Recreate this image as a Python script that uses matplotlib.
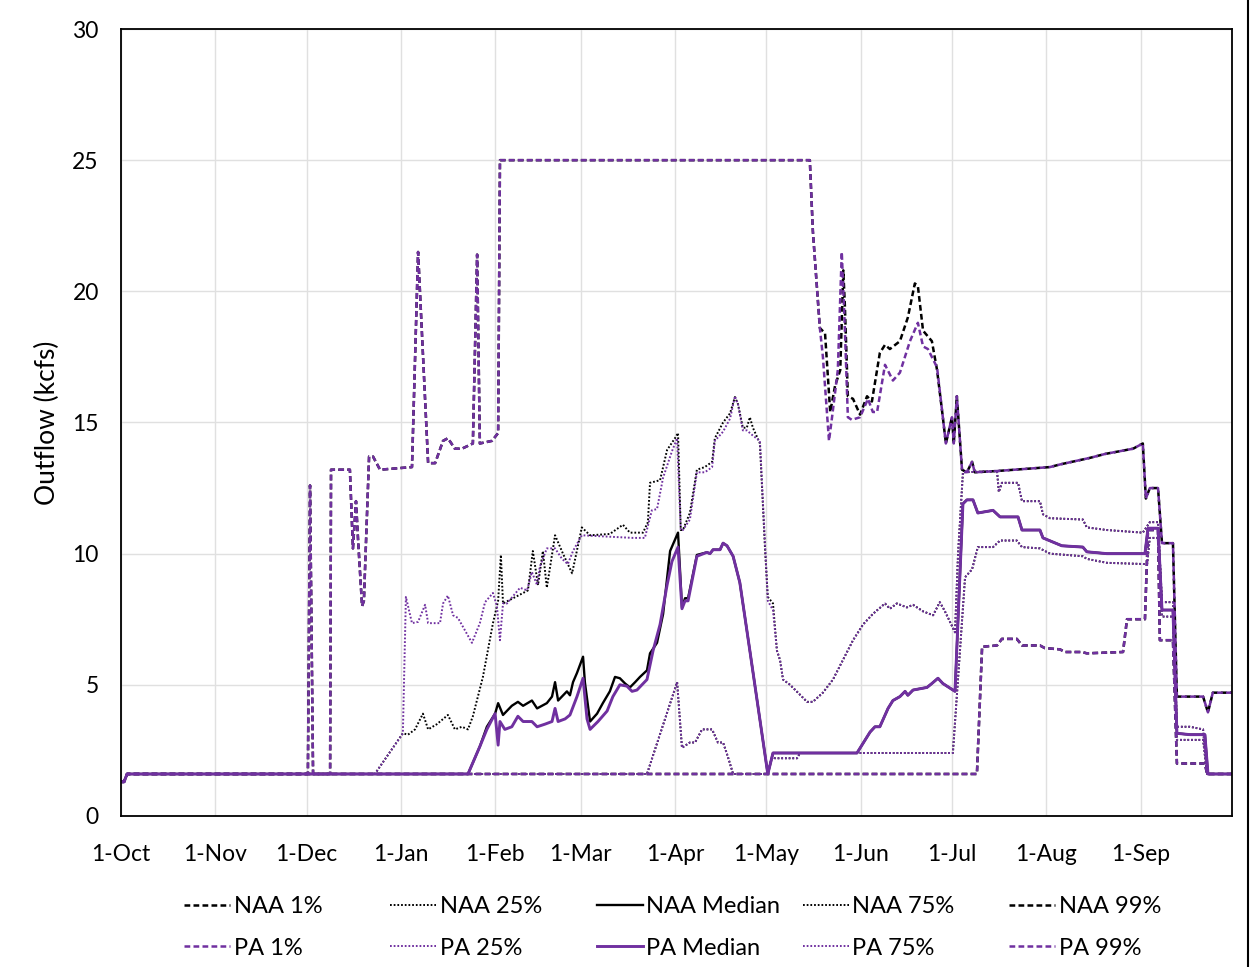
import matplotlib
matplotlib.use("Agg")
import matplotlib.pyplot as plt
from matplotlib.lines import Line2D

plt.rcParams['font.family'] = ['Lato', 'DejaVu Sans']

# days counted from 1-Oct; values in kcfs
month_days = [0, 31, 61, 92, 123, 151, 182, 212, 243, 273, 304, 335]
month_labels = ['1-Oct', '1-Nov', '1-Dec', '1-Jan', '1-Feb', '1-Mar', '1-Apr',
                '1-May', '1-Jun', '1-Jul', '1-Aug', '1-Sep']

# 1% exceedance (NAA and PA coincide)
p1_day = [0, 1, 2, 281.2, 282.9, 287.8, 289.4, 294.3, 296.0, 301.9, 303.5, 308.5, 310.1,
          315.7, 317.3, 329.2, 330.5, 336.4, 337.4, 340.7, 341.3, 345.6, 346.9, 356.1, 356.8, 365]
p1_val = [1.3, 1.3, 1.6, 1.6, 6.45, 6.5, 6.75, 6.75, 6.5, 6.5, 6.4, 6.35, 6.25,
          6.25, 6.2, 6.25, 7.5, 7.5, 10.9, 10.9, 6.7, 6.7, 2.0, 2.0, 1.6, 1.6]

# 25% (NAA and PA coincide)
p25_day = [0, 1, 2, 172.8, 182.7, 184.3, 186.9, 188.6, 190.9, 194.2, 196.1, 197.8, 199.4,
           201.1, 212.5, 213.9, 214.8, 222.1, 223.1, 273.3, 277.3, 279.6, 281.5, 286.5,
           288.8, 294.3, 296.0, 301.9, 305.2, 316.0, 317.3, 323.9, 337.1, 338.0, 340.7,
           342.0, 345.6, 346.9, 355.5, 356.8, 365]
p25_val = [1.3, 1.3, 1.6, 1.6, 5.1, 2.6, 2.8, 2.8, 3.3, 3.3, 2.8, 2.8, 2.25,
           1.6, 1.6, 2.3, 2.2, 2.2, 2.4, 2.4, 9.1, 9.4, 10.25, 10.25,
           10.5, 10.5, 10.25, 10.2, 10.0, 9.9, 9.8, 9.65, 9.6, 10.6, 10.6,
           7.6, 7.6, 2.9, 2.9, 1.6, 1.6]

# median
naa_med_day = [0, 1, 2, 114.0, 117.9, 120.2, 122.9, 123.9, 125.5, 128.4, 130.4, 132.1, 135.0,
               136.7, 139.9, 141.6, 142.6, 143.6, 146.5, 147.5, 148.5, 149.8, 151.8, 152.4,
               154.1, 156.4, 158.3, 160.6, 162.3, 163.9, 165.6, 167.2, 168.9, 170.5, 172.8,
               173.8, 176.1, 178.1, 180.4, 183.0, 184.3, 185.3, 186.3, 189.2, 192.5, 193.5,
               194.5, 196.8, 197.8, 199.1, 201.1, 203.3, 206.6, 212.5, 214.2, 241.8, 246.1,
               247.7, 249.3, 252.0, 253.6, 255.9, 257.6, 258.5, 260.2, 262.5, 264.8, 266.4,
               268.4, 270.0, 274.0, 276.6, 277.9, 279.9, 281.5, 286.5, 288.8, 294.7, 296.0,
               301.9, 302.9, 309.1, 316.0, 317.3, 323.9, 336.4, 337.4, 340.7, 342.0, 345.6,
               346.9, 351.2, 356.1, 357.1, 365]
naa_med_val = [1.3, 1.3, 1.6, 1.6, 2.65, 3.4, 3.9, 4.3, 3.85, 4.2, 4.35, 4.2, 4.4,
               4.1, 4.3, 4.55, 5.1, 4.4, 4.75, 4.6, 5.1, 5.45, 6.07, 5.1,
               3.6, 3.9, 4.3, 4.75, 5.3, 5.25, 5.05, 4.9, 5.1, 5.3, 5.55,
               6.2, 6.6, 7.7, 10.1, 10.8, 7.95, 8.3, 8.3, 9.95, 10.05, 10.0,
               10.15, 10.15, 10.4, 10.3, 9.9, 8.9, 6.3, 1.6, 2.4, 2.4, 3.2,
               3.4, 3.4, 4.1, 4.4, 4.55, 4.75, 4.6, 4.8, 4.85, 4.9, 5.05,
               5.25, 5.05, 4.75, 11.9, 12.05, 12.05, 11.55, 11.65, 11.4, 11.4, 10.9,
               10.9, 10.6, 10.3, 10.25, 10.07, 10.0, 10.0, 10.97, 10.97, 7.85, 7.85,
               3.15, 3.1, 3.1, 1.6, 1.6]

pa_med_day = [0, 1, 2, 114.0, 117.9, 120.2, 122.9, 123.9, 124.5, 126.1, 128.4, 130.4, 132.1,
              135.0, 136.7, 139.3, 141.6, 142.6, 143.6, 145.9, 147.5, 149.8, 151.8, 153.1,
              154.1, 156.7, 159.7, 161.6, 163.9, 166.2, 167.9, 169.5, 172.8, 174.8, 177.1,
              179.4, 181.0, 183.0, 184.3, 185.3, 186.3, 189.2, 192.5, 193.5,
              194.5, 196.8, 197.8, 199.1, 201.1, 203.3, 206.6, 212.5, 214.2, 241.8, 246.1,
              247.7, 249.3, 252.0, 253.6, 255.9, 257.6, 258.5, 260.2, 262.5, 264.8, 266.4,
              268.4, 270.0, 274.0, 276.6, 277.9, 279.9, 281.5, 286.5, 288.8, 294.7, 296.0,
              301.9, 302.9, 309.1, 316.0, 317.3, 323.9, 336.4, 337.4, 340.7, 342.0, 345.6,
              346.9, 351.2, 356.1, 357.1, 365]
pa_med_val = [1.3, 1.3, 1.6, 1.6, 2.65, 3.3, 3.9, 2.7, 3.6, 3.3, 3.4, 3.8, 3.6,
              3.6, 3.4, 3.5, 3.6, 4.1, 3.6, 3.7, 3.85, 4.55, 5.25, 3.7,
              3.3, 3.6, 4.0, 4.55, 5.0, 4.95, 4.75, 4.8, 5.2, 6.3, 7.3,
              8.8, 9.7, 10.25, 7.9, 8.2, 8.2, 9.9, 10.05, 10.0,
              10.15, 10.15, 10.4, 10.3, 9.9, 8.9, 6.3, 1.6, 2.4, 2.4, 3.2,
              3.4, 3.4, 4.1, 4.4, 4.55, 4.75, 4.6, 4.8, 4.85, 4.9, 5.05,
              5.25, 5.05, 4.75, 11.9, 12.05, 12.05, 11.55, 11.65, 11.4, 11.4, 10.9,
              10.9, 10.6, 10.3, 10.25, 10.07, 10.0, 10.0, 10.97, 10.97, 7.85, 7.85,
              3.15, 3.1, 3.1, 1.6, 1.6]

# 75%
p75_tail_day = [215.5, 216.5, 217.5, 219.8, 222.4, 225.4, 227.3, 230.6, 233.9, 237.2, 240.5,
                243.8, 247.0, 251.0, 252.6, 254.9, 258.2, 260.2, 263.5, 266.8, 269.0, 270.7,
                274.0, 275.0, 276.6, 287.8, 288.4, 289.4, 294.7, 296.0, 301.9, 302.9, 305.2,
                316.0, 317.3, 323.9, 335.7, 338.0, 340.7, 342.0, 345.6, 346.9, 351.2, 355.5,
                356.8, 365]
p75_tail_val = [6.3, 5.95, 5.2, 5.0, 4.7, 4.35, 4.35, 4.7, 5.2, 5.95, 6.7,
                7.3, 7.7, 8.1, 7.9, 8.1, 7.95, 8.05, 7.8, 7.65, 8.15, 7.8,
                7.0, 10.0, 13.1, 13.15, 12.35, 12.7, 12.7, 12.0, 12.0, 11.5, 11.35,
                11.3, 11.0, 10.9, 10.8, 11.2, 11.2, 8.15, 8.15, 3.4, 3.4, 3.3,
                1.6, 1.6]

naa_p75_day = [0, 1, 2, 83.4, 92.6, 94.3, 96.6, 99.2, 100.9, 103.8, 107.4, 109.7, 112.0,
               114.0, 115.6, 118.9, 122.2, 123.9, 124.8, 125.5, 128.8, 132.1, 133.7, 135.3,
               137.0, 138.6, 139.9, 142.6, 145.2, 148.2, 151.4, 154.1, 160.6, 164.9, 167.2,
               171.5, 173.1, 173.8, 177.1, 179.4, 182.0, 183.0, 183.9, 184.6, 186.9, 189.2,
               191.8, 194.2, 195.1, 197.8, 200.1, 201.7, 202.7, 204.3, 205.6, 206.6, 207.6,
               209.9, 211.6, 212.5, 214.2] + p75_tail_day
naa_p75_val = [1.3, 1.3, 1.6, 1.6, 3.15, 3.1, 3.3, 3.9, 3.3, 3.5, 3.85, 3.3, 3.4,
               3.3, 3.8, 5.3, 7.35, 8.2, 9.95, 8.1, 8.3, 8.5, 8.6, 10.1,
               8.8, 10.1, 8.7, 10.7, 10.0, 9.25, 11.0, 10.7, 10.75, 11.1, 10.8,
               10.8, 11.2, 12.7, 12.8, 13.95, 14.4, 14.6, 10.9, 10.9, 11.55, 13.2,
               13.3, 13.5, 14.4, 15.0, 15.35, 15.97, 15.7, 14.8, 14.8, 15.2, 14.8,
               14.2, 10.15, 8.35, 8.1] + p75_tail_val

pa_p75_day = [0, 1, 2, 83.4, 92.6, 93.6, 95.6, 97.6, 99.9, 100.9, 104.8, 105.8, 107.4,
              109.1, 110.7, 115.3, 117.9, 119.6, 122.2, 123.5, 124.5, 125.5, 126.8, 131.1,
              133.4, 135.0, 136.7, 137.6, 139.9, 142.6, 144.9, 146.8, 148.5, 151.4, 159.7,
              168.2, 172.1, 174.4, 176.1, 178.1, 181.0, 182.7, 183.9, 184.6, 186.9, 189.2,
              191.8, 194.2, 195.1, 197.8, 200.1, 201.7, 202.7, 204.3, 205.6, 207.6,
              209.9, 211.6, 212.5, 214.2] + p75_tail_day
pa_p75_val = [1.3, 1.3, 1.6, 1.6, 3.15, 8.35, 7.35, 7.4, 8.05, 7.35, 7.35, 8.1, 8.4,
              7.65, 7.55, 6.6, 7.35, 8.15, 8.5, 8.0, 6.7, 8.1, 8.1, 8.7,
              8.6, 9.3, 8.8, 9.5, 10.2, 10.2, 9.8, 9.6, 10.1, 10.7, 10.65,
              10.6, 10.6, 11.65, 11.7, 12.9, 13.9, 14.4, 10.9, 10.9, 11.3, 13.1,
              13.1, 13.3, 14.3, 14.65, 15.15, 16.0, 15.7, 14.7, 14.7, 14.5,
              14.3, 10.3, 8.2, 7.85] + p75_tail_val

# 99%
p99_head_day = [0, 1, 2, 61.4, 62.1, 63.1, 68.7, 69.0, 75.2, 76.2, 77.2, 77.9, 79.2, 79.8,
                81.5, 82.8, 85.1, 95.6, 97.6, 100.9, 103.2, 105.8, 107.4, 109.7, 112.0,
                115.6, 117.0, 117.9, 121.9, 123.9, 124.5, 226.3, 227.3, 229.6]
p99_head_val = [1.3, 1.3, 1.6, 1.6, 12.6, 1.6, 1.6, 13.2, 13.2, 10.2, 12.0, 10.5, 8.0, 8.2,
                13.7, 13.7, 13.2, 13.3, 21.5, 13.45, 13.45, 14.3, 14.4, 14.0, 14.0,
                14.2, 21.4, 14.2, 14.3, 14.6, 25.0, 25.0, 22.3, 18.6]
p99_tail_day = [270.0, 271.0, 273.0, 273.6, 274.6, 276.3, 277.9, 279.6, 280.5, 287.8, 305.2,
                308.5, 318.3, 323.3, 332.5, 335.7, 336.7, 338.0, 340.7, 342.0, 345.6, 346.9,
                355.5, 357.1, 358.7, 365]
p99_tail_val = [15.2, 14.2, 15.2, 14.2, 16.0, 13.2, 13.1, 13.5, 13.1, 13.15, 13.3,
                13.4, 13.65, 13.8, 14.0, 14.2, 12.1, 12.5, 12.5, 10.4, 10.4, 4.55,
                4.55, 3.95, 4.7, 4.7]

naa_p99_mid_day = [231.3, 233.0, 234.6, 236.3, 237.3, 237.8, 238.8, 240.5, 242.8, 245.1, 246.7,
                   249.3, 251.0, 252.6, 255.9, 258.5, 260.8, 261.8, 263.5, 266.4, 268.1]
naa_p99_mid_val = [18.4, 15.4, 16.4, 17.0, 20.8, 19.5, 16.0, 15.9, 15.3, 16.0, 15.8,
                   17.65, 17.96, 17.8, 18.1, 19.0, 20.3, 20.2, 18.5, 18.1, 17.0]
pa_p99_mid_day = [230.6, 232.6, 233.6, 235.5, 236.8, 237.8, 238.8, 240.1, 242.8, 245.4, 247.0,
                  248.4, 251.0, 253.6, 255.9, 259.2, 261.8, 263.5, 265.1, 268.1]
pa_p99_mid_val = [17.5, 14.3, 15.2, 17.0, 21.5, 18.6, 15.2, 15.1, 15.2, 15.9, 15.4,
                  15.4, 17.2, 16.6, 16.9, 18.1, 18.8, 17.9, 17.8, 17.1]

naa_color = 'black'
pa_color = '#7030A0'
dash = (2.3, 1.3)
dot = (0.9, 1.0)

fig = plt.figure(figsize=(12.5, 9.67), dpi=100)
ax = fig.add_axes([0.0968, 0.1562, 0.8888, 0.8138])

series = [
    ('NAA 1%', p1_day, p1_val, naa_color, 1.8, dash),
    ('NAA 25%', p25_day, p25_val, naa_color, 1.4, dot),
    ('NAA Median', naa_med_day, naa_med_val, naa_color, 1.7, None),
    ('NAA 75%', naa_p75_day, naa_p75_val, naa_color, 1.4, dot),
    ('NAA 99%', p99_head_day + naa_p99_mid_day + p99_tail_day,
     p99_head_val + naa_p99_mid_val + p99_tail_val, naa_color, 1.8, dash),
    ('PA 1%', p1_day, p1_val, pa_color, 1.8, dash),
    ('PA 25%', p25_day, p25_val, pa_color, 1.4, dot),
    ('PA Median', pa_med_day, pa_med_val, pa_color, 2.1, None),
    ('PA 75%', pa_p75_day, pa_p75_val, pa_color, 1.4, dot),
    ('PA 99%', p99_head_day + pa_p99_mid_day + p99_tail_day,
     p99_head_val + pa_p99_mid_val + p99_tail_val, pa_color, 1.8, dash),
]

handles = {}
for name, xs, ys, col, lw, ds in series:
    ln, = ax.plot(xs, ys, color=col, lw=lw, label=name)
    if ds is not None:
        ln.set_dashes(ds)
    handles[name] = ln

ax.set_xlim(0, 365)
ax.set_ylim(0, 30)
ax.set_yticks(range(0, 31, 5))
ax.set_xticks(month_days)
ax.set_xticklabels(month_labels)
ax.tick_params(axis='both', length=0, labelsize=16.5)
ax.tick_params(axis='x', pad=20)
ax.tick_params(axis='y', pad=16)
ax.grid(True, color='#E0E0E0', lw=1.0)
ax.set_axisbelow(True)
for s in ax.spines.values():
    s.set_color('black')
    s.set_linewidth(1.3)
ax.set_ylabel('Outflow (kcfs)', fontsize=19)
ax.yaxis.set_label_coords(-0.055, 0.5)

cols = [('NAA 1%', 'PA 1%'), ('NAA 25%', 'PA 25%'), ('NAA Median', 'PA Median'),
        ('NAA 75%', 'PA 75%'), ('NAA 99%', 'PA 99%')]
for i, (a, b) in enumerate(cols):
    fig.legend(handles=[handles[a], handles[b]], loc='upper left',
               bbox_to_anchor=((184 + 206.3 * i) / 1250, 1 - 896 / 967),
               frameon=False, fontsize=17, handlelength=1.95, handletextpad=0.15,
               borderpad=0, borderaxespad=0, labelspacing=0.87)

fig.add_artist(Line2D([0.9985, 0.9985], [0, 1], color='black', lw=1.5,
                      transform=fig.transFigure))

fig.savefig('out.png', dpi=100)
